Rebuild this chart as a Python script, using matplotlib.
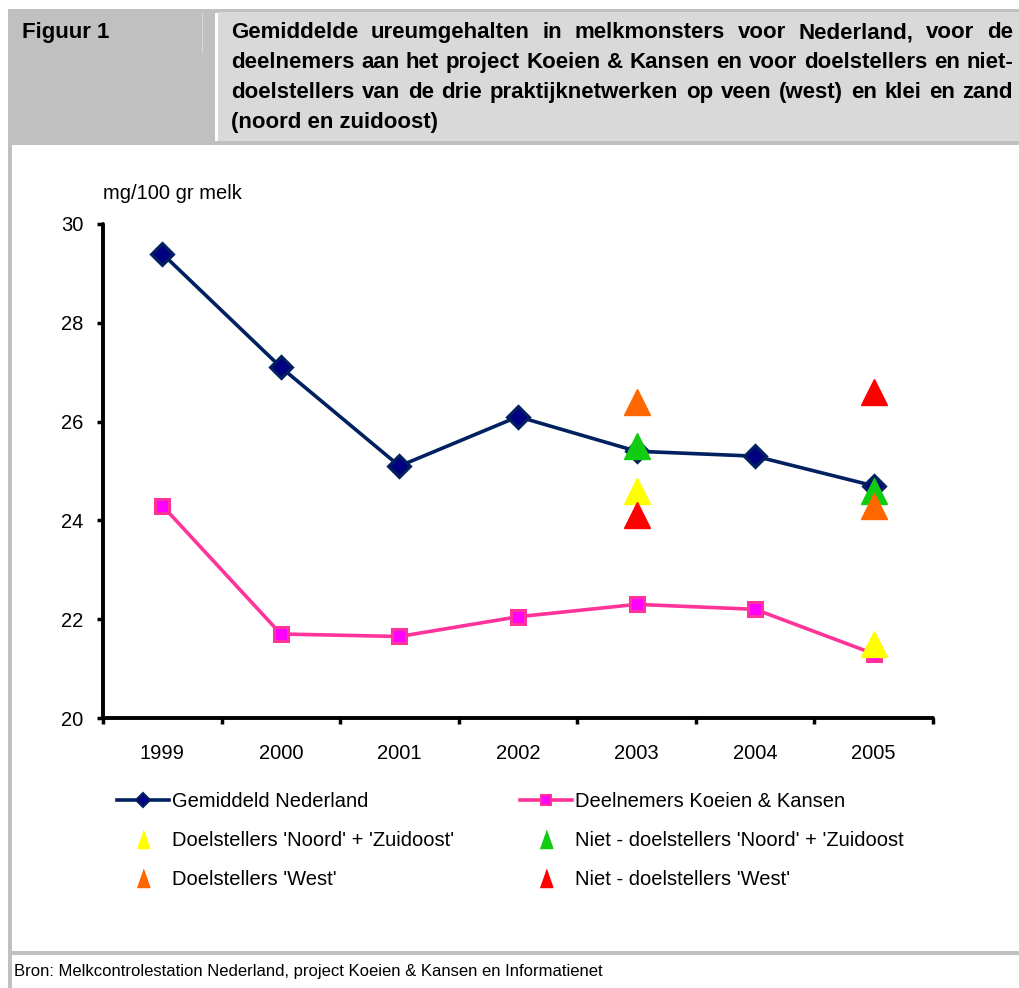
import numpy as np
import matplotlib
matplotlib.use("Agg")
import matplotlib.pyplot as plt
from matplotlib.lines import Line2D
from matplotlib.patches import Rectangle

# ---------------- data ----------------
years = ['1999', '2000', '2001', '2002', '2003', '2004', '2005']
gemiddeld_nl = [29.4, 27.1, 25.1, 26.1, 25.4, 25.3, 24.7]
deelnemers_kk = [24.3, 21.7, 21.65, 22.05, 22.3, 22.2, 21.3]
nan = np.nan
doel_noord_zo = [nan, nan, nan, nan, 24.6, nan, 21.5]
niet_doel_noord_zo = [nan, nan, nan, nan, 25.5, nan, 24.6]
doel_west = [nan, nan, nan, nan, 26.4, nan, 24.3]
niet_doel_west = [nan, nan, nan, nan, 24.1, nan, 26.6]
y_ticks = [20, 22, 24, 26, 28, 30]

labels = ["Gemiddeld Nederland", "Deelnemers Koeien & Kansen",
          "Doelstellers 'Noord' + 'Zuidoost'", "Niet - doelstellers 'Noord' + 'Zuidoost",
          "Doelstellers 'West'", "Niet - doelstellers 'West'"]

header_label = "Figuur 1"
title_lines = [
    "Gemiddelde ureumgehalten in melkmonsters voor Nederland, voor de",
    "deelnemers aan het project Koeien & Kansen en voor doelstellers en niet-",
    "doelstellers van de drie praktijknetwerken op veen (west) en klei en zand",
    "(noord en zuidoost)",
]
y_unit = "mg/100 gr melk"
source = "Bron: Melkcontrolestation Nederland, project Koeien & Kansen en Informatienet"

# ---------------- styling ----------------
FONT = ['Liberation Sans', 'DejaVu Sans']
NARROW = ['Liberation Sans Narrow', 'Liberation Sans', 'DejaVu Sans']
plt.rcParams['font.family'] = FONT

W, H = 1020, 988
fig = plt.figure(figsize=(W / 100, H / 100), dpi=100, facecolor='white')

# background / frame axes in pixel coordinates
bg = fig.add_axes([0, 0, 1, 1])
bg.set_xlim(0, W)
bg.set_ylim(H, 0)
bg.axis('off')
bg.set_zorder(0)

GREY = '#c0c0c0'
LIGHT = '#d9d9d9'
bg.add_patch(Rectangle((8, 9), W - 8, 4, color=GREY, lw=0))          # top rule
bg.add_patch(Rectangle((8, 9), 4, H - 9, color=GREY, lw=0))          # left rule
bg.add_patch(Rectangle((10, 12), 205, 129, color=GREY, lw=0))        # left header box
bg.add_patch(Rectangle((202, 13), 1.5, 40, color=LIGHT, lw=0))       # small separator
bg.add_patch(Rectangle((218, 12), W - 218, 129, color=LIGHT, lw=0))  # right header box
bg.add_patch(Rectangle((8, 141), W - 8, 4, color=GREY, lw=0))        # header bottom rule
bg.add_patch(Rectangle((8, 951), W - 8, 4, color=GREY, lw=0))        # footer rule

TSIZE = 16
bg.text(22, 38, header_label, fontsize=TSIZE, fontweight='bold', family=FONT,
        ha='left', va='baseline', color='black')

# justified title
fig.canvas.draw()
renderer = fig.canvas.get_renderer()
x0, x1 = 231, 1013
line_y = [38, 68, 98, 128]
for i, line in enumerate(title_lines):
    if i == len(title_lines) - 1:
        bg.text(x0, line_y[i], line, fontsize=TSIZE, fontweight='bold', family=FONT,
                ha='left', va='baseline')
        continue
    words = line.split(' ')
    texts = [bg.text(0, line_y[i], w, fontsize=TSIZE, fontweight='bold', family=FONT,
                     ha='left', va='baseline') for w in words]
    widths = [t.get_window_extent(renderer).width for t in texts]
    gap = (x1 - x0 - sum(widths)) / (len(words) - 1)
    x = x0
    for t, w in zip(texts, widths):
        t.set_x(x)
        x += w + gap

bg.text(103, 193, y_unit, fontsize=14.5, ha='left', va='center')
bg.text(14, 971, source, fontsize=12, family=NARROW, ha='left', va='center')

# ---------------- chart axes ----------------
ax = fig.add_axes([103 / W, 1 - 718 / H, (933 - 103) / W, (718 - 224) / H])
ax.set_zorder(1)
ax.patch.set_alpha(0)
x = np.arange(len(years))

NAVY_LINE = '#002060'
PINK_LINE = '#ff3399'
ax.plot(x, gemiddeld_nl, color=NAVY_LINE, lw=2.6, marker='D', markersize=11,
        markerfacecolor='#000080', markeredgecolor=NAVY_LINE, markeredgewidth=2.2,
        solid_joinstyle='round', zorder=3, clip_on=False)
ax.plot(x, deelnemers_kk, color=PINK_LINE, lw=2.6, marker='s', markersize=10,
        markerfacecolor='#ff00ff', markeredgecolor=PINK_LINE, markeredgewidth=2.2,
        zorder=3, clip_on=False)

tri = dict(marker='^', markersize=19, linestyle='none', zorder=4, clip_on=False)
ax.plot(x, doel_noord_zo, color='#ffff00', **tri)
ax.plot(x, niet_doel_noord_zo, color='#11cc11', **tri)
ax.plot(x, doel_west, color='#ff6600', **tri)
ax.plot(x, niet_doel_west, color='#ff0000', **tri)

ax.set_xlim(-0.5, len(years) - 0.5)
ax.set_ylim(20, 30)
ax.set_yticks(y_ticks)
ax.set_yticklabels([str(v) for v in y_ticks], fontsize=14.5)
ax.set_xticks(np.arange(len(years) + 1) - 0.5)
ax.set_xticklabels([])
ax.set_xticks(x, minor=True)
ax.set_xticklabels(years, minor=True, fontsize=14.5)
ax.tick_params(axis='x', which='minor', length=0, pad=19)
ax.tick_params(axis='x', which='major', length=4, width=2.5, direction='out')
ax.tick_params(axis='y', length=4, width=2.5, direction='out', pad=10)
for s in ['top', 'right']:
    ax.spines[s].set_visible(False)
for s in ['left', 'bottom']:
    ax.spines[s].set_linewidth(2.8)
    ax.spines[s].set_capstyle('round')

# ---------------- legend ----------------
tri_verts = [(-0.7, -1), (0.7, -1), (0, 1)]
def tri_handle(c):
    return Line2D([], [], linestyle='none', marker=tri_verts, markersize=13,
                  color=c, markeredgecolor=c)

h_gem = Line2D([], [], color=NAVY_LINE, lw=2.6, marker='D', markersize=7,
               markerfacecolor='#000080', markeredgecolor=NAVY_LINE, markeredgewidth=1.5)
h_dee = Line2D([], [], color=PINK_LINE, lw=2.6, marker='s', markersize=7,
               markerfacecolor='#ff00ff', markeredgecolor=PINK_LINE, markeredgewidth=1.5)

leg_kw = dict(loc='upper left', frameon=False, fontsize=14.5, handlelength=2.6,
              handletextpad=0.15, labelspacing=1.0, borderpad=0, borderaxespad=0,
              bbox_transform=fig.transFigure)
leg1 = fig.legend([h_gem, tri_handle('#ffff00'), tri_handle('#ff6600')],
                  [labels[0], labels[2], labels[4]],
                  bbox_to_anchor=(117 / W, 1 - 792 / H), **leg_kw)
leg2 = fig.legend([h_dee, tri_handle('#11cc11'), tri_handle('#ff0000')],
                  [labels[1], labels[3], labels[5]],
                  bbox_to_anchor=(520 / W, 1 - 792 / H), **leg_kw)

fig.savefig('out.png', dpi=100, facecolor='white')
